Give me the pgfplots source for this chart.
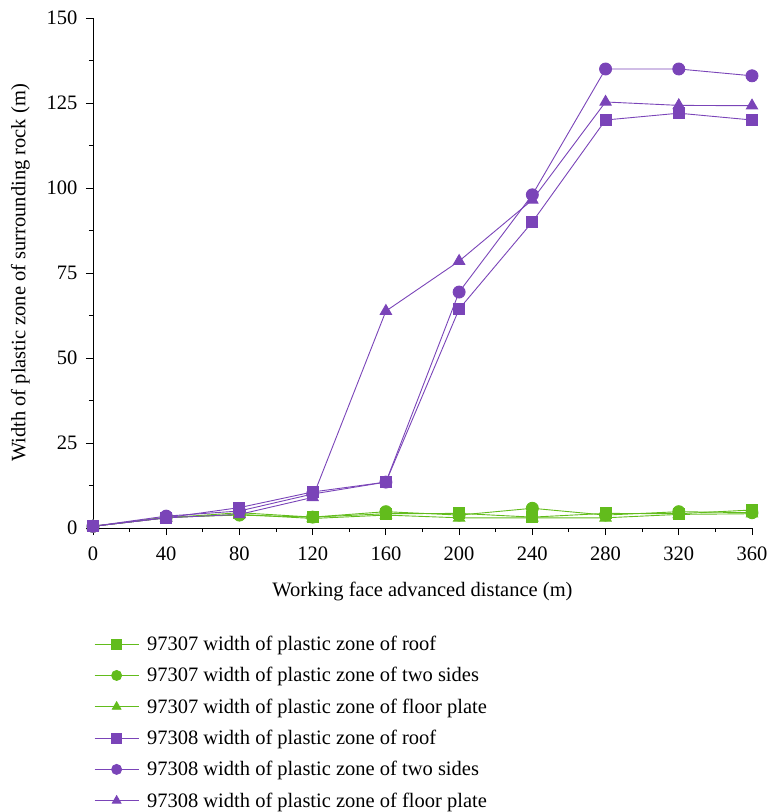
\documentclass[border=0pt]{standalone}
\usepackage{pgfplots}
\pgfplotsset{compat=1.18}
\usepackage{fontspec}
\setmainfont{Liberation Serif}
\definecolor{cg}{HTML}{62BC1C}
\definecolor{cp}{HTML}{7A44B8}
\begin{document}
\begin{tikzpicture}[font=\fontsize{20.5bp}{24bp}\selectfont]
\begin{axis}[
  scale only axis,
  width=659bp, height=510bp,
  xmin=0, xmax=360, ymin=0, ymax=150,
  xtick={0,40,...,360}, ytick={0,25,...,150},
  minor x tick num=1, minor y tick num=1,
  axis x line*=bottom, axis y line*=left,
  axis line style={line width=0.9bp, -},
  tick align=outside,
  major tick length=7bp, minor tick length=4bp,
  tick style={line width=0.9bp, black},
  /pgf/number format/assume math mode=true,
  ticklabel style={font=\fontsize{20.5bp}{24bp}\selectfont},
  xticklabel style={yshift=-8bp},
  yticklabel style={xshift=-5bp},
  xlabel={Working face advanced distance (m)},
  ylabel={Width of plastic zone of surrounding rock (m)},
  xlabel style={yshift=-15bp},
  ylabel style={yshift=10bp},
  clip=false,
  legend cell align=left,
  legend style={at={(0,0)}, anchor=north west, xshift=-2bp, yshift=-104bp, draw=none, fill=none,
    row sep=11.4bp, font=\fontsize{20.5bp}{24bp}\selectfont},
  legend image code/.code={\draw[#1, mark size=5bp, mark repeat=2, mark phase=2] plot coordinates {(0bp,0bp) (22bp,0bp) (44bp,0bp)};\path (50bp,0bp);},
  every axis plot/.append style={line width=0.9bp},
]
\addplot[cg, mark=square*, mark size=5.5bp] coordinates {(0,0.5)(40,3)(80,4.5)(120,3.2)(160,4.2)(200,4.3)(240,3.2)(280,4.3)(320,4.2)(360,5.3)};
\addlegendentry{97307 width of plastic zone of roof}
\addplot[cg, mark=*, mark size=6bp] coordinates {(0,0.5)(40,3.2)(80,3.8)(120,3.2)(160,4.8)(200,3.8)(240,5.8)(280,3.8)(320,4.8)(360,4.5)};
\addlegendentry{97307 width of plastic zone of two sides}
\addplot[cg, mark=triangle*, mark size=6.5bp] coordinates {(0,0.5)(40,3)(80,4)(120,2.8)(160,3.8)(200,3)(240,3)(280,3)(320,4)(360,4.2)};
\addlegendentry{97307 width of plastic zone of floor plate}
\addplot[cp, mark=square*, mark size=5.5bp] coordinates {(0,0.5)(40,3)(80,6)(120,10.6)(160,13.5)(200,64.4)(240,90)(280,120)(320,122)(360,120)};
\addlegendentry{97308 width of plastic zone of roof}
\addplot[cp, mark=*, mark size=6bp] coordinates {(0,0.5)(40,3.5)(80,5)(120,10)(160,13.5)(200,69.4)(240,98)(280,135)(320,135)(360,133)};
\addlegendentry{97308 width of plastic zone of two sides}
\addplot[cp, mark=triangle*, mark size=6.5bp] coordinates {(0,0.5)(40,3)(80,4)(120,9)(160,63.8)(200,78.5)(240,96.5)(280,125.3)(320,124.3)(360,124.2)};
\addlegendentry{97308 width of plastic zone of floor plate}
\end{axis}
\path (current axis.south west) ++(-93bp,-284bp) coordinate (bbA);
\path (current axis.north east) ++(16bp,18bp) coordinate (bbB);
\pgfresetboundingbox
\path (bbA) rectangle (bbB);
\end{tikzpicture}
\end{document}
